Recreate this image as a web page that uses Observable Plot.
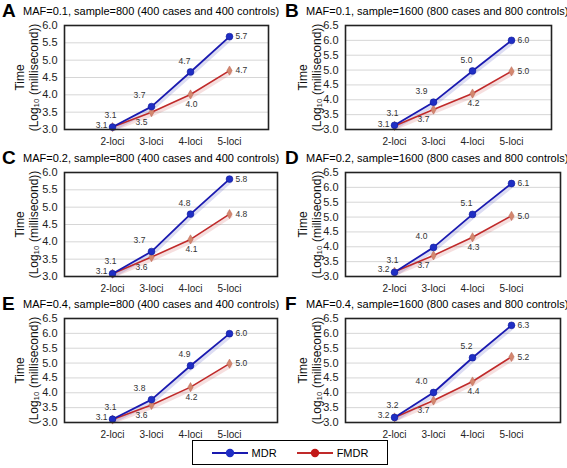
<!DOCTYPE html>
<html>
<head>
<meta charset="utf-8">
<script src="https://cdn.jsdelivr.net/npm/d3@7"></script>
<script src="https://cdn.jsdelivr.net/npm/@observablehq/plot@0.6"></script>
<style>
  body { margin: 0; background: #fff; font-family: "Liberation Sans", Arial, sans-serif; }
  #root { position: relative; width: 567px; height: 468px; overflow: hidden; background: #fff; }
  .letter { position: absolute; font-weight: bold; font-size: 19px; line-height: 1; color: #000; }
  .title { position: absolute; font-size: 11px; line-height: 1; white-space: nowrap; color: #000; }
  .panel { position: absolute; }
  .legend { position: absolute; left: 192px; top: 440px; width: 194px; height: 23px; border: 1.5px solid #000;
            display: flex; align-items: center; justify-content: center; font-size: 11px; }
  .legend .item { display: flex; align-items: center; }
  .legend .item + .item { margin-left: 20px; }
  .legend svg { display: block; margin-right: 4px; }
</style>
</head>
<body>
<div id="root"></div>
<script>
// ---- data ----
const loci = ["2-loci", "3-loci", "4-loci", "5-loci"];
const letters = ["A", "B", "C", "D", "E", "F"];
const titles = [
  "MAF=0.1, sample=800 (400 cases and 400 controls)",
  "MAF=0.1, sample=1600 (800 cases and 800 controls)",
  "MAF=0.2, sample=800 (400 cases and 400 controls)",
  "MAF=0.2, sample=1600 (800 cases and 800 controls)",
  "MAF=0.4, sample=800 (400 cases and 400 controls)",
  "MAF=0.4, sample=1600 (800 cases and 800 controls)"
];
const yMaxes = [6.0, 6.5, 6.0, 6.5, 6.5, 6.5];
const mdrA = [3.07, 3.66, 4.66, 5.68];
const fmdrA = [3.07, 3.50, 4.01, 4.70];
const mdrB = [3.14, 3.92, 4.97, 6.00];
const fmdrB = [3.12, 3.67, 4.21, 4.96];
const mdrC = [3.08, 3.72, 4.80, 5.81];
const fmdrC = [3.08, 3.56, 4.07, 4.80];
const mdrD = [3.14, 3.98, 5.09, 6.13];
const fmdrD = [3.16, 3.71, 4.32, 5.04];
const mdrE = [3.11, 3.77, 4.91, 5.99];
const fmdrE = [3.10, 3.59, 4.19, 4.98];
const mdrF = [3.17, 4.01, 5.18, 6.27];
const fmdrF = [3.17, 3.74, 4.38, 5.21];
const mdrSeries = [mdrA, mdrB, mdrC, mdrD, mdrE, mdrF];
const fmdrSeries = [fmdrA, fmdrB, fmdrC, fmdrD, fmdrE, fmdrF];
const seriesNames = ["MDR", "FMDR"];

// ---- style ----
const FONT = "Liberation Sans, Arial, sans-serif";
const MDR_LINE = "#1a1ab0", MDR_DOT = "#1f2ec4";
const FMDR_LINE = "#c02a2a", FMDR_DOT = "#d4876e";
const colX = [0, 283];
const frameTops = [25, 172, 318];
const marginRights = [15, 15, 6, 6, 6, 6];

const root = document.getElementById("root");

for (let p = 0; p < 6; p++) {
  const col = p % 2, row = Math.floor(p / 2);
  const x0 = colX[col], fTop = frameTops[row];

  const L = document.createElement("div");
  L.className = "letter"; L.textContent = letters[p];
  L.style.left = (x0 + 2) + "px"; L.style.top = (fTop - 24) + "px";
  root.appendChild(L);

  const T = document.createElement("div");
  T.className = "title"; T.textContent = titles[p];
  T.style.left = (x0 + 23) + "px"; T.style.top = (fTop - 19) + "px";
  root.appendChild(T);

  const yMax = yMaxes[p];
  const ticks = d3.range(3, yMax + 0.001, 0.5);
  const rows = [];
  loci.forEach((l, i) => {
    rows.push({loci: l, i, series: "MDR", v: mdrSeries[p][i]});
    rows.push({loci: l, i, series: "FMDR", v: fmdrSeries[p][i]});
  });
  const mdr = rows.filter(d => d.series === "MDR");
  const fmdr = rows.filter(d => d.series === "FMDR");
  const fmt = d => d.v.toFixed(1);
  const marginLeft = col === 0 ? 64 : 62;
  const marginRight = marginRights[p];
  const width = 283;
  const frameRight = width - marginRight;
  const lblStyle = {fontSize: 8.5, fill: "#333", fontFamily: FONT};

  const chart = Plot.plot({
    width, height: 132,
    marginLeft, marginRight, marginTop: 10, marginBottom: 18,
    x: {type: "point", domain: loci, insetLeft: 91 - marginLeft, insetRight: frameRight - (col === 0 ? 249 : 247), label: null},
    y: {domain: [3, yMax], label: null},
    style: {fontFamily: FONT, color: "#222", background: "transparent", overflow: "visible"},
    marks: [
      Plot.gridY(ticks, {stroke: "#d6d6d6", strokeOpacity: 1}),
      Plot.axisY(ticks, {tickSize: 0, tickPadding: 7, tickFormat: d => d.toFixed(1), fontSize: 11, fill: "#222", label: null}),
      Plot.axisX({tickSize: 0, tickPadding: 8, fontSize: 10, fill: "#222", label: null}),
      // shadows
      Plot.line(fmdr, {x: "loci", y: "v", stroke: FMDR_LINE, strokeOpacity: 0.15, strokeWidth: 4, dy: 2, dx: 1}),
      Plot.line(mdr, {x: "loci", y: "v", stroke: MDR_LINE, strokeOpacity: 0.15, strokeWidth: 4, dy: 2, dx: 1}),
      Plot.line(fmdr, {x: "loci", y: "v", stroke: FMDR_LINE, strokeWidth: 1.6}),
      Plot.line(mdr, {x: "loci", y: "v", stroke: MDR_LINE, strokeWidth: 1.8}),
      Plot.dot(fmdr, {x: "loci", y: "v", symbol: "diamond", r: 2.8, fill: FMDR_DOT, stroke: "#b86a5a", strokeWidth: 0.5}),
      Plot.dot(mdr, {x: "loci", y: "v", r: 3.4, fill: MDR_DOT, stroke: "#0d1a99", strokeWidth: 0.6}),
      // MDR labels
      Plot.text(mdr.filter(d => d.i === 0), {x: "loci", y: "v", text: fmt, dx: -2, dy: -12, ...lblStyle}),
      Plot.text(mdr.filter(d => d.i === 1), {x: "loci", y: "v", text: fmt, dx: -12, dy: -11, ...lblStyle}),
      Plot.text(mdr.filter(d => d.i === 2), {x: "loci", y: "v", text: fmt, dx: -6, dy: -11, ...lblStyle}),
      Plot.text(mdr.filter(d => d.i === 3), {x: "loci", y: "v", text: fmt, dx: 6, textAnchor: "start", ...lblStyle}),
      // FMDR labels
      Plot.text(fmdr.filter(d => d.i === 0), {x: "loci", y: "v", text: fmt, dx: -5, dy: -2, textAnchor: "end", ...lblStyle}),
      Plot.text(fmdr.filter(d => d.i === 1), {x: "loci", y: "v", text: fmt, dx: -10, dy: 10, ...lblStyle}),
      Plot.text(fmdr.filter(d => d.i === 2), {x: "loci", y: "v", text: fmt, dx: 1, dy: 10, ...lblStyle}),
      Plot.text(fmdr.filter(d => d.i === 3), {x: "loci", y: "v", text: fmt, dx: 6, textAnchor: "start", ...lblStyle}),
      // y titles
      Plot.text(["Time"], {frameAnchor: "left", textAnchor: "middle", text: d => d, rotate: -90, dx: -(marginLeft - 20), fontSize: 12, fill: "#111", fontFamily: FONT}),
      Plot.text(["(Log₁₀ (millisecond))"], {frameAnchor: "left", textAnchor: "middle", text: d => d, rotate: -90, dx: -(marginLeft - 34), fontSize: 12, fill: "#111", fontFamily: FONT}),
      Plot.frame({stroke: "#222", strokeWidth: 1.6})
    ]
  });
  const wrap = document.createElement("div");
  wrap.className = "panel";
  wrap.style.left = x0 + "px"; wrap.style.top = (fTop - 10) + "px";
  wrap.appendChild(chart);
  root.appendChild(wrap);
}

// legend
const legend = document.createElement("div");
legend.className = "legend";
const legendColors = [[MDR_LINE, "#1f2ec4"], [FMDR_LINE, "#c21818"]];
seriesNames.forEach((name, k) => {
  const item = document.createElement("div");
  item.className = "item";
  const svg = d3.create("svg").attr("width", 36).attr("height", 12);
  svg.append("line").attr("x1", 0).attr("x2", 36).attr("y1", 6).attr("y2", 6)
    .attr("stroke", legendColors[k][0]).attr("stroke-width", 2);
  svg.append("circle").attr("cx", 18).attr("cy", 6).attr("r", 4.2).attr("fill", legendColors[k][1]);
  item.appendChild(svg.node());
  const s = document.createElement("span");
  s.textContent = name;
  item.appendChild(s);
  legend.appendChild(item);
});
root.appendChild(legend);
</script>
</body>
</html>
